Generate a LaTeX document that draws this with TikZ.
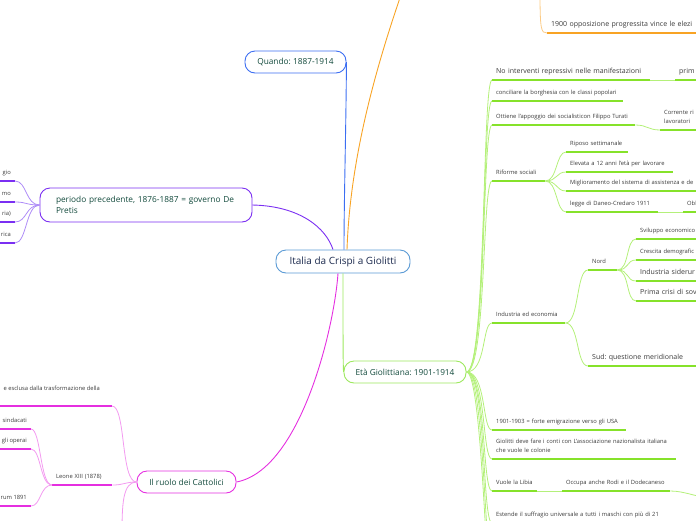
\documentclass[tikz,border=0pt]{standalone}
\usepackage{fontspec}
\setmainfont{Open Sans}
\frenchspacing
\definecolor{centerborder}{HTML}{5B9BD5}
\definecolor{centertext}{HTML}{1D2B4F}
\definecolor{topictext}{HTML}{124A3C}
\definecolor{leaftext}{HTML}{3A3A3A}
\definecolor{bline}{HTML}{3C6EF2}
\definecolor{oline}{HTML}{F8A324}
\definecolor{ocurve}{HTML}{FBCB86}
\definecolor{pline}{HTML}{7B2FF2}
\definecolor{pcurve}{HTML}{AE8CF7}
\definecolor{mline}{HTML}{E52FE0}
\definecolor{mcurve}{HTML}{F39AF0}
\definecolor{gborder}{HTML}{9DE85E}
\definecolor{gline}{HTML}{86E22A}
\definecolor{gcurve}{HTML}{B4F07A}
\newcommand\centerfont{\fontsize{10}{12}\selectfont}
\newcommand\topicfont{\fontsize{8.3}{11}\selectfont}
\newcommand\leafsmall{\fontsize{5.8}{9}\selectfont}
\newcommand\leaflarge{\fontsize{7}{9}\selectfont}

\begin{document}
\begin{tikzpicture}[x=1pt, y=-1pt,
    topic/.style={draw, rounded corners=10pt, line width=0.9pt, fill=white, font=\topicfont, text=topictext, minimum height=22pt},
    leaf/.style={anchor=south west, inner xsep=4pt, inner ysep=4.5pt, text depth=1.5pt, align=left, font=\leafsmall, text=leaftext,
      append after command={(\tikzlastnode.south west) edge[draw=#1, line width=1.5pt] (\tikzlastnode.south east)}},
    leafr/.style={leaf=#1, anchor=south east},
    gc/.style={draw=gcurve, line width=0.8pt},
    mc/.style={draw=mcurve, line width=0.8pt},
    pc/.style={draw=pcurve, line width=0.8pt},
    oc/.style={draw=ocurve, line width=0.8pt}
  ]
  \useasboundingbox (0,0) rectangle (696,520);

  % main topics
  \node[topic, draw=centerborder, text=centertext, font=\centerfont, minimum width=134pt, minimum height=23pt] (italia) at (343,261.5) {Italia da Crispi a Giolitti};
  \node[topic, draw=bline, minimum width=101pt] (quando) at (295.5,62) {Quando: 1887-1914};
  \node[topic, draw=pline, minimum height=34pt, text width=180pt, inner xsep=16pt, align=left] (prec) at (146,205) {periodo precedente, 1876-1887 = governo De\\Pretis};
  \node[topic, draw=mline, minimum width=99pt] (catt) at (186.5,482) {Il ruolo dei Cattolici};
  \node[topic, draw=gborder, minimum width=122pt] (giol) at (405,372) {Età Giolittiana: 1901-1914};

  \coordinate (otop) at (402,-8);
  \coordinate (oprev) at (540,-10);
  \coordinate (mdown) at (122,535);
  \coordinate (gfa) at (492,560);
  \coordinate (gfb) at (492,600);
  \coordinate (occnext) at (706,497);

  % periodo precedente
  \node[leafr=pline] (pa) at (15,181) {gio};
  \node[leafr=pline] (pb) at (15,202) {mo};
  \node[leafr=pline] (pc) at (15,222) {ria)};
  \node[leafr=pline] (pd) at (15,243) {rica};

  % cattolici
  \node[leafr=mline, inner xsep=12pt, text depth=10.5pt] (excl) at (112,406) {e esclusa dalla trasformazione della};
  \node[leaf=mline, text width=52pt] (leone) at (52,485) {Leone XIII (1878)};
  \node[leafr=mline] (sind) at (31,429) {sindacati};
  \node[leafr=mline] (oper) at (31,449) {gli operai};
  \node[leafr=mline] (rerum) at (31,506) {rum 1891};

  % crispi
  \node[leaf=oline, font=\leaflarge, text width=200pt] (opp) at (547,33) {1900 opposizione progressita vince le elezi};

  % eta giolittiana
  \node[leaf=gline, font=\leaflarge, text width=150pt] (noint) at (492,80) {No interventi repressivi nelle manifestazioni};
  \node[leaf=gline, font=\leaflarge, text width=60pt] (prim) at (675,80) {prim};
  \node[leaf=gline, text width=123pt] (concil) at (492,101) {conciliare la borghesia con le classi popolari};
  \node[leaf=gline, text width=135pt] (turati) at (492,125) {Ottiene l'appoggio dei socialisticon Filippo Turati};
  \node[leaf=gline, text width=60pt, text depth=10.5pt] (corr) at (660,130) {Corrente ri\\lavoratori};
  \node[leaf=gline, text width=45pt] (rif) at (492,181) {Riforme sociali};
  \node[leaf=gline, text width=54pt] (ripo) at (566,152) {Riposo settimanale};
  \node[leaf=gline, text width=99pt] (eleva) at (566,172) {Elevata a 12 anni l'età per lavorare};
  \node[leaf=gline, text width=150pt] (migl) at (566,191) {Miglioramento del sistema di assistenza e de};
  \node[leaf=gline, text width=84pt] (daneo) at (566,212) {legge di Daneo-Credaro 1911};
  \node[leaf=gline, text width=40pt] (obl) at (683,212) {Obl};
  \node[leaf=gline, text width=65pt] (indu) at (492,323) {Industria ed economia};
  \node[leaf=gline, text width=21pt] (nord) at (588,270) {Nord};
  \node[leaf=gline, text width=70pt] (svil) at (636,239) {Sviluppo economico};
  \node[leaf=gline, text width=70pt] (cresc) at (636,260) {Crescita demografic};
  \node[leaf=gline, font=\leaflarge, text width=70pt] (sider) at (636,281) {Industria siderur};
  \node[leaf=gline, font=\leaflarge, text width=70pt] (crisi) at (636,301) {Prima crisi di sov};
  \node[leaf=gline, font=\leaflarge, text width=120pt] (sud) at (588,366) {Sud: questione meridionale};
  \node[leaf=gline, text width=126pt] (emig) at (492,430) {1901-1903 = forte emigrazione verso gli USA};
  \node[leaf=gline, text width=176pt, text depth=10.5pt] (assoc) at (492,459) {Giolitti deve fare i conti con L'associazione nazionalista italiana\\che vuole le colonie};
  \node[leaf=gline, text width=37pt] (libia) at (492,491) {Vuole la Libia};
  \node[leaf=gline, text width=100pt] (rodi) at (562,491) {Occupa anche Rodi e il Dodecaneso};
  \node[leaf=gline, text width=190pt] (suffr) at (492,523) {Estende il suffragio universale a tutti i maschi con più di 21};

  % branches from the centre
  \draw[bline, line width=0.9pt] (quando.east) .. controls (346,130) and (344,200) .. ([xshift=1pt]italia.north);
  \draw[oline, line width=0.9pt] ([xshift=4pt]italia.north) .. controls (350,160) and (375,70) .. (otop);
  \draw[pline, line width=0.9pt] (prec.east) .. controls (300,206) and (326,228) .. ([xshift=-10pt]italia.north);
  \draw[mline, line width=0.9pt] (catt.east) .. controls (300,470) and (334,330) .. ([xshift=-5pt]italia.south);
  \draw[gborder, line width=0.9pt] (italia.south) .. controls (343,330) and (343,365) .. (giol.west);

  % left side
  \draw[pc] (prec.west) .. controls +(-14,0) and +(12,0) .. (pa.south east);
  \draw[pc] (prec.west) .. controls +(-14,0) and +(12,0) .. (pb.south east);
  \draw[pc] (prec.west) .. controls +(-14,0) and +(12,0) .. (pc.south east);
  \draw[pc] (prec.west) .. controls +(-14,0) and +(12,0) .. (pd.south east);
  \draw[mc] (catt.west) .. controls +(-16,0) and +(14,0) .. (excl.south east);
  \draw[mc] (catt.west) .. controls +(-12,0) and +(12,0) .. (leone.south east);
  \draw[mc] (catt.west) .. controls +(-14,0) and +(0,-30) .. (mdown);
  \draw[mc] (leone.south west) .. controls +(-12,0) and +(10,0) .. (sind.south east);
  \draw[mc] (leone.south west) .. controls +(-12,0) and +(10,0) .. (oper.south east);
  \draw[mc] (leone.south west) .. controls +(-12,0) and +(10,0) .. (rerum.south east);

  % right side
  \draw[oc] (oprev) .. controls (540,30) and (541,33) .. (opp.south west);
  \draw[gc] (giol.east) .. controls +(20,0) and +(-10,0) .. (noint.south west);
  \draw[gc] (giol.east) .. controls +(20,0) and +(-10,0) .. (concil.south west);
  \draw[gc] (giol.east) .. controls +(20,0) and +(-10,0) .. (turati.south west);
  \draw[gc] (giol.east) .. controls +(20,0) and +(-10,0) .. (rif.south west);
  \draw[gc] (giol.east) .. controls +(20,0) and +(-10,0) .. (indu.south west);
  \draw[gc] (giol.east) .. controls +(20,0) and +(-10,0) .. (emig.south west);
  \draw[gc] (giol.east) .. controls +(20,0) and +(-10,0) .. (assoc.south west);
  \draw[gc] (giol.east) .. controls +(20,0) and +(-10,0) .. (libia.south west);
  \draw[gc] (giol.east) .. controls +(20,0) and +(-10,0) .. (suffr.south west);
  \draw[gc] (giol.east) .. controls +(18,0) and +(-8,0) .. (gfa);
  \draw[gc] (giol.east) .. controls +(16,0) and +(-6,0) .. (gfb);
  \draw[gc] (noint.south east) -- (prim.south west);
  \draw[gc] (turati.south east) .. controls +(12,0) and +(-12,0) .. (corr.south west);
  \draw[gc] (rif.south east) .. controls +(12,0) and +(-10,0) .. (ripo.south west);
  \draw[gc] (rif.south east) .. controls +(12,0) and +(-10,0) .. (eleva.south west);
  \draw[gc] (rif.south east) .. controls +(12,0) and +(-10,0) .. (migl.south west);
  \draw[gc] (rif.south east) .. controls +(12,0) and +(-10,0) .. (daneo.south west);
  \draw[gc] (daneo.south east) -- (obl.south west);
  \draw[gc] (indu.south east) .. controls +(14,0) and +(-12,0) .. (nord.south west);
  \draw[gc] (indu.south east) .. controls +(14,0) and +(-12,0) .. (sud.south west);
  \draw[gc] (nord.south east) .. controls +(12,0) and +(-10,0) .. (svil.south west);
  \draw[gc] (nord.south east) .. controls +(12,0) and +(-10,0) .. (cresc.south west);
  \draw[gc] (nord.south east) .. controls +(12,0) and +(-10,0) .. (sider.south west);
  \draw[gc] (nord.south east) .. controls +(12,0) and +(-10,0) .. (crisi.south west);
  \draw[gc] (libia.south east) -- (rodi.south west);
  \draw[gc] (rodi.south east) .. controls +(14,0) and +(-10,0) .. (occnext);
\end{tikzpicture}
\end{document}
